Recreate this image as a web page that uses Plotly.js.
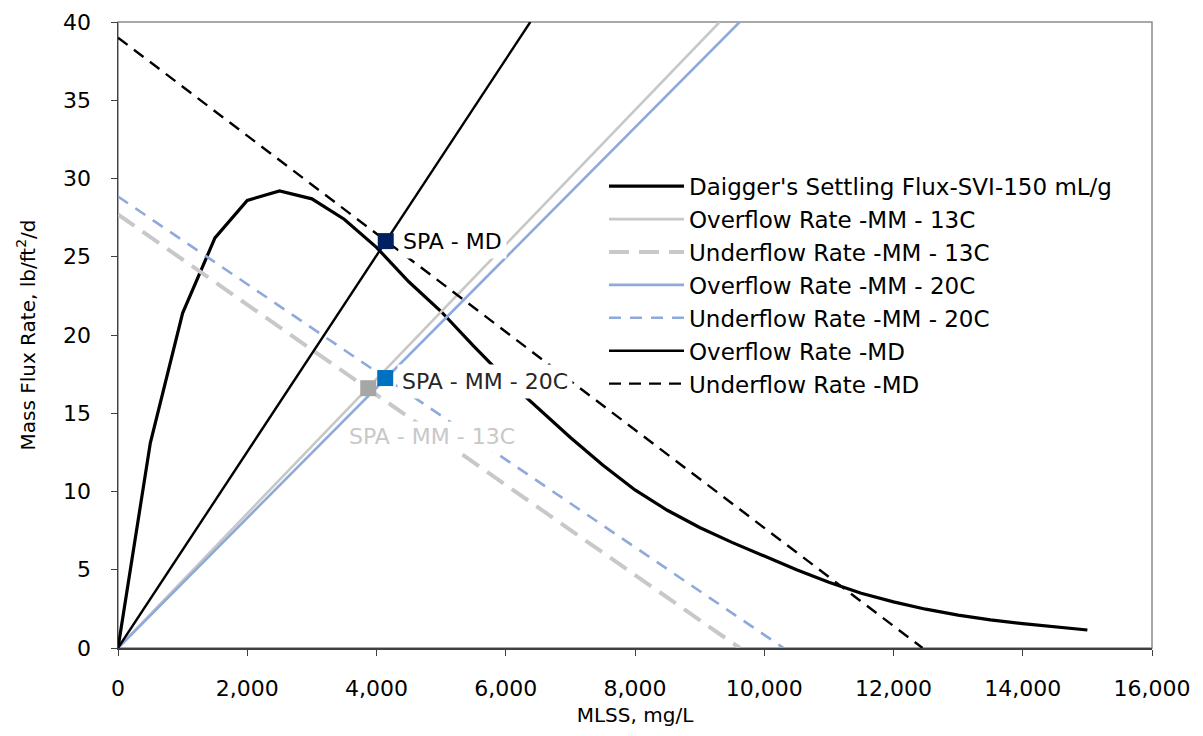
<!DOCTYPE html>
<html>
<head>
<meta charset="utf-8">
<script src="https://cdn.plot.ly/plotly-3.0.1.min.js"></script>
<style>html,body{margin:0;padding:0;background:#fff;}#chart{width:1203px;height:736px;}</style>
</head>
<body>
<div id="chart"></div>
<script>
// Daigger settling flux curve (MLSS mg/L vs flux lb/ft2/d)
const mlss = [0,500,1000,1500,2000,2500,3000,3500,4000,4500,5000,5500,6000,6500,7000,7500,8000,8500,9000,9500,10000,10500,11000,11500,12000,12500,13000,13500,14000,14500,15000];
const flux = [0,13.1,21.4,26.2,28.6,29.2,28.7,27.4,25.6,23.4,21.5,19.3,17.2,15.3,13.45,11.7,10.1,8.8,7.7,6.75,5.85,5.0,4.2,3.5,2.95,2.48,2.1,1.8,1.56,1.35,1.15];

// Overflow / underflow operating lines (end points)
const ovMM13x = [0, 9310];  const ovMM13y = [0, 40];
const unMM13x = [0, 9620];  const unMM13y = [27.7, 0];
const ovMM20x = [0, 9620];  const ovMM20y = [0, 40];
const unMM20x = [0, 10300]; const unMM20y = [28.85, 0];
const ovMDx = [0, 6380];    const ovMDy = [0, 40];
const unMDx = [0, 12450];   const unMDy = [39, 0];

// State points
const spaNames = ["SPA - MD", "SPA - MM - 20C", "SPA - MM - 13C"];
const spaX = [4143, 4135, 3872];
const spaY = [26.0, 17.25, 16.6];

const FONT = "DejaVu Sans, sans-serif";

const traces = [
  {x: mlss, y: flux, name: "Daigger's Settling Flux-SVI-150 mL/g", mode: "lines", line: {color: "#000", width: 3.2}},
  {x: ovMM13x, y: ovMM13y, name: "Overflow Rate -MM - 13C", mode: "lines", line: {color: "#c8c8c8", width: 2.6}},
  {x: unMM13x, y: unMM13y, name: "Underflow Rate -MM - 13C", mode: "lines", line: {color: "#c8c8c8", width: 4, dash: "20px,10px"}},
  {x: ovMM20x, y: ovMM20y, name: "Overflow Rate -MM - 20C", mode: "lines", line: {color: "#8eaadb", width: 2.6}},
  {x: unMM20x, y: unMM20y, name: "Underflow Rate -MM - 20C", mode: "lines", line: {color: "#8eaadb", width: 2.6, dash: "12px,9px"}},
  {x: ovMDx, y: ovMDy, name: "Overflow Rate -MD", mode: "lines", line: {color: "#000", width: 2.4}},
  {x: unMDx, y: unMDy, name: "Underflow Rate -MD", mode: "lines", line: {color: "#000", width: 2.4, dash: "12px,8px"}},
  {x: [spaX[2]], y: [spaY[2]], mode: "markers", showlegend: false, hoverinfo: "skip", marker: {symbol: "square", size: 16, color: "#a6a6a6"}},
  {x: [spaX[1]], y: [spaY[1]], mode: "markers", showlegend: false, hoverinfo: "skip", marker: {symbol: "square", size: 16, color: "#0070c0"}},
  {x: [spaX[0]], y: [spaY[0]], mode: "markers", showlegend: false, hoverinfo: "skip", marker: {symbol: "square", size: 16, color: "#002060"}}
];

const annotations = [
  {x: spaX[0], y: spaY[0], text: spaNames[0], showarrow: false, xanchor: "left", xshift: 12, bgcolor: "#fff", borderpad: 4, font: {family: FONT, size: 22, color: "#000"}},
  {x: spaX[1], y: spaY[1], text: spaNames[1], showarrow: false, xanchor: "left", xshift: 12, yshift: -3, bgcolor: "#fff", borderpad: 4, font: {family: FONT, size: 22, color: "#262626"}},
  {x: spaX[2], y: spaY[2], text: spaNames[2], showarrow: false, xanchor: "left", xshift: -22, yshift: -48, bgcolor: "#fff", borderpad: 2, font: {family: FONT, size: 22, color: "#c8c8c8"}}
];

const layout = {
  width: 1203, height: 736,
  margin: {l: 117.5, r: 50.5, t: 22, b: 88},
  paper_bgcolor: "#fff", plot_bgcolor: "#fff",
  font: {family: FONT, size: 22, color: "#000"},
  showlegend: true,
  legend: {x: 0.47, y: 0.772, xanchor: "left", yanchor: "top", bgcolor: "rgba(0,0,0,0)", font: {family: FONT, size: 23, color: "#000"}, tracegroupgap: 0, itemwidth: 75},
  xaxis: {range: [0, 16000], dtick: 2000, tickformat: ",d", showgrid: false, zeroline: false,
          showline: true, linecolor: "#404040", linewidth: 1.5, mirror: false,
          ticks: "outside", ticklen: 6, tickcolor: "#404040", tickfont: {family: FONT, size: 22}, ticklabelstandoff: 14,
          title: {text: "MLSS, mg/L", font: {family: FONT, size: 20}, standoff: 8}},
  yaxis: {range: [0, 40], dtick: 5, showgrid: false, zeroline: false,
          showline: true, linecolor: "#404040", linewidth: 1.5, mirror: false,
          ticks: "outside", ticklen: 6, tickcolor: "#404040", tickfont: {family: FONT, size: 22}, ticklabelstandoff: 15,
          title: {text: "Mass Flux Rate, lb/ft<sup>2</sup>/d", font: {family: FONT, size: 20}, standoff: 22}},
  shapes: [
    {type: "rect", xref: "paper", yref: "paper", x0: 0, x1: 1, y0: 0, y1: 1, line: {color: "#8c8c8c", width: 1.5}, layer: "below"}
  ],
  annotations: annotations
};

Plotly.newPlot("chart", traces, layout, {displayModeBar: false, staticPlot: true});
</script>
</body>
</html>
